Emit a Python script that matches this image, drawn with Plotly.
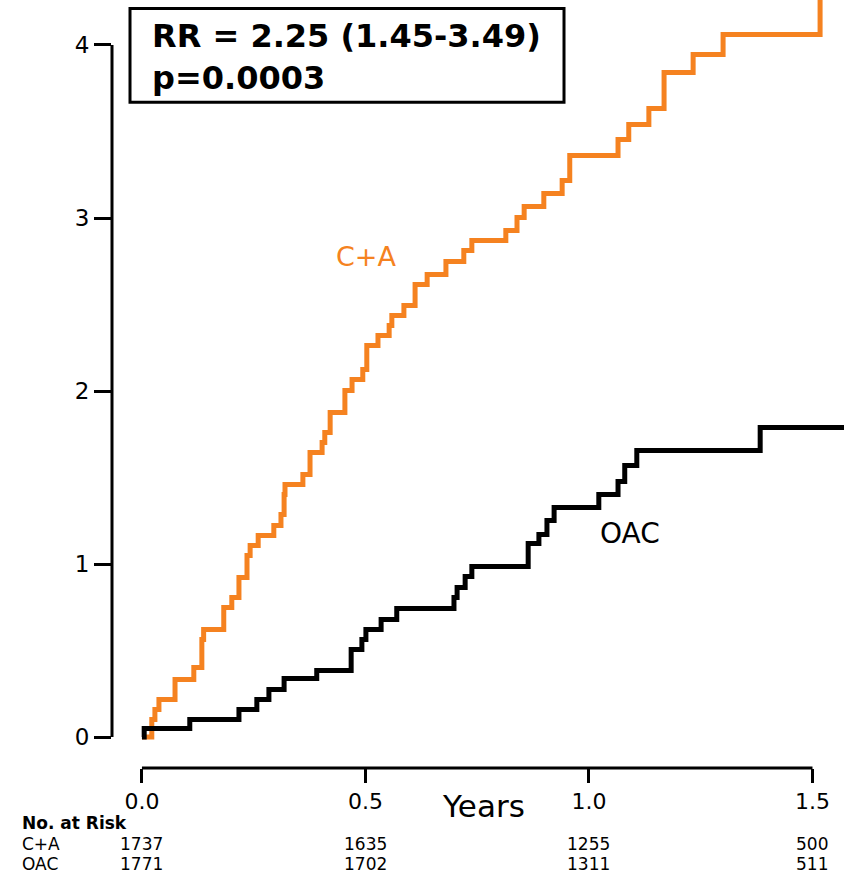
import plotly.graph_objects as go

# ---- data ----
ca_years = [0.0, 0.022, 0.029, 0.038, 0.074, 0.116, 0.134, 0.138, 0.183, 0.201, 0.217, 0.235, 0.242,
            0.260, 0.295, 0.311, 0.318, 0.320, 0.360, 0.376, 0.403, 0.409, 0.421, 0.454, 0.470,
            0.494, 0.503, 0.528, 0.553, 0.559, 0.586, 0.611, 0.638, 0.680, 0.720, 0.738, 0.814,
            0.839, 0.855, 0.899, 0.940, 0.957, 1.065, 1.089, 1.134, 1.168, 1.233, 1.300, 1.517]
ca_values = [0.0, 0.101, 0.159, 0.217, 0.332, 0.402, 0.564, 0.621, 0.749, 0.806, 0.922, 1.049, 1.107,
             1.165, 1.223, 1.286, 1.402, 1.460, 1.517, 1.645, 1.702, 1.760, 1.876, 2.003, 2.066,
             2.124, 2.263, 2.321, 2.379, 2.436, 2.494, 2.616, 2.673, 2.749, 2.812, 2.870, 2.928,
             3.003, 3.066, 3.142, 3.217, 3.361, 3.454, 3.540, 3.633, 3.841, 3.945, 4.061, 4.35]

oac_years = [0.0, 0.005, 0.107, 0.217, 0.257, 0.284, 0.318, 0.391, 0.468, 0.492, 0.501, 0.535, 0.570,
             0.698, 0.705, 0.723, 0.738, 0.864, 0.888, 0.906, 0.922, 1.022, 1.065, 1.080, 1.107,
             1.383, 1.60]
oac_values = [0.0, 0.05, 0.101, 0.159, 0.217, 0.275, 0.338, 0.384, 0.506, 0.564, 0.621, 0.679, 0.743,
              0.806, 0.864, 0.928, 0.986, 1.118, 1.171, 1.251, 1.327, 1.402, 1.477, 1.569, 1.656,
              1.789, 1.789]

x_ticks = [0.0, 0.5, 1.0, 1.5]
x_tick_labels = ["0.0", "0.5", "1.0", "1.5"]
y_ticks = [0, 1, 2, 3, 4]
y_tick_labels = ["0", "1", "2", "3", "4"]

risk_groups = ["C+A", "OAC"]
risk_ca = [1737, 1635, 1255, 500]
risk_oac = [1771, 1702, 1311, 511]

ORANGE = "#F58220"
BLACK = "#000000"
FONT = "DejaVu Sans"

fig = go.Figure()
fig.add_trace(go.Scatter(x=ca_years, y=ca_values, mode="lines", line=dict(color=ORANGE, width=5, shape="hv"),
                         showlegend=False, hoverinfo="skip"))
fig.add_trace(go.Scatter(x=oac_years, y=oac_values, mode="lines", line=dict(color=BLACK, width=5, shape="hv"),
                         showlegend=False, hoverinfo="skip"))

fig.update_layout(
    width=844, height=874,
    margin=dict(l=112, r=0, t=0, b=106),
    paper_bgcolor="white", plot_bgcolor="white",
    font=dict(family=FONT, color="black"),
    xaxis=dict(range=[-0.067, 1.5705], tickvals=x_ticks, ticktext=x_tick_labels,
               ticks="outside", ticklen=14, tickwidth=3, tickcolor="black",
               showline=False, showgrid=False, zeroline=False,
               tickfont=dict(family=FONT, size=22, color="black")),
    yaxis=dict(range=[-0.179, 4.26], tickvals=y_ticks, ticktext=y_tick_labels,
               ticks="outside", ticklen=17, tickwidth=3, tickcolor="black",
               showline=False, showgrid=False, zeroline=False,
               tickfont=dict(family=FONT, size=23, color="black")),
)

# axis lines (span only the tick range, as in the reference)
fig.add_shape(type="line", xref="paper", yref="y", x0=0, x1=0, y0=y_ticks[0], y1=y_ticks[-1],
              line=dict(color="black", width=3))
fig.add_shape(type="line", xref="x", yref="paper", x0=x_ticks[0], x1=x_ticks[-1], y0=0, y1=0,
              line=dict(color="black", width=3))

# stats box
fig.add_shape(type="rect", xref="paper", yref="paper", x0=0.0246, x1=0.6175, y0=0.867, y1=0.989,
              line=dict(color="black", width=3), fillcolor="rgba(0,0,0,0)")
fig.add_annotation(xref="paper", yref="paper", x=0.0519, y=0.953, xanchor="left", yanchor="middle",
                   text="<b>RR = 2.25 (1.45-3.49)</b>", showarrow=False,
                   font=dict(family=FONT, size=32, color="black"))
fig.add_annotation(xref="paper", yref="paper", x=0.0519, y=0.898, xanchor="left", yanchor="middle",
                   text="<b>p=0.0003</b>", showarrow=False,
                   font=dict(family=FONT, size=32, color="black"))

# curve labels
fig.add_annotation(x=0.501, y=2.775, text="C+A", showarrow=False,
                   font=dict(family=FONT, size=27, color=ORANGE))
fig.add_annotation(x=1.092, y=1.179, text="OAC", showarrow=False,
                   font=dict(family=FONT, size=28, color="black"))

# axis title
fig.add_annotation(x=0.763, xref="x", yref="paper", y=-0.0495, yanchor="middle", text="Years",
                   showarrow=False, font=dict(family=FONT, size=31, color="black"))

# number at risk table
fig.add_annotation(xref="paper", yref="paper", x=-0.1257, y=-0.0715, xanchor="left", yanchor="middle",
                   text="<b>No. at Risk</b>", showarrow=False, font=dict(family=FONT, size=17, color="black"))
row_y = [-0.0995, -0.1245]
for name, vals, yy in zip(risk_groups, [risk_ca, risk_oac], row_y):
    fig.add_annotation(xref="paper", yref="paper", x=-0.1257, y=yy, xanchor="left", yanchor="middle",
                       text=name, showarrow=False, font=dict(family=FONT, size=17, color="black"))
    for xt, v in zip(x_ticks, vals):
        fig.add_annotation(xref="x", yref="paper", x=xt, y=yy, xanchor="center", yanchor="middle",
                           text=str(v), showarrow=False, font=dict(family=FONT, size=17, color="black"))

fig.write_html("out.html", config={"displayModeBar": False},
               post_script="document.body.style.margin='0';document.body.style.overflow='hidden';")
